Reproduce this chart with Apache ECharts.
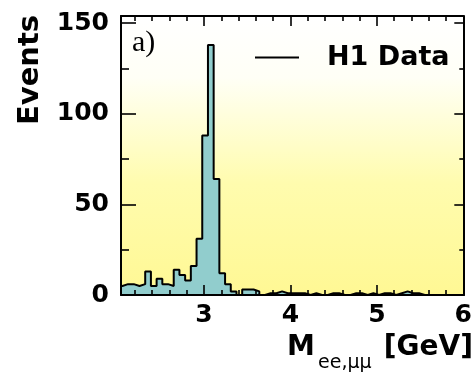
<!DOCTYPE html>
<html>
<head>
<meta charset="utf-8">
<script src="https://cdn.jsdelivr.net/npm/echarts@6/dist/echarts.min.js"></script>
<style>
  html, body { margin: 0; padding: 0; background: #ffffff; }
  #chart { width: 475px; height: 374px; }
</style>
</head>
<body>
<div id="chart"></div>
<script>
// Invariant mass of ee / mumu pairs, J/psi region
const binStart = 1.99;   // GeV, lower edge of the first bin
const binWidth = 0.066;  // GeV
const counts = [
  5, 6, 6, 5, 6, 13, 5, 9, 6, 5,
  14, 11, 8, 16, 31, 88, 138, 64, 12, 6,
  2, 0, 3, 3, 2, 0, 1, 1, 2, 1,
  1, 1, 1, 0, 1, 0, 0, 1, 1, 0,
  0, 1, 1, 0, 1, 0, 1, 1, 0, 1,
  2, 1, 1, 0, 0, 0, 0, 0, 0, 0,
  0
];
const xRange = [2.04, 6.0];
const yRange = [0, 154];
const xMajorTicks = [3, 4, 5, 6];
const xMinorTicks = [2.2, 2.4, 2.6, 2.8, 3.2, 3.4, 3.6, 3.8, 4.2, 4.4, 4.6, 4.8, 5.2, 5.4, 5.6, 5.8];
const yMajorTicks = [0, 50, 100, 150];
const yMinorTicks = [25, 75, 125];
const seriesName = 'H1 Data';

const FONT = "'DejaVu Sans', sans-serif";

// step outline: one point per left bin edge, closed down to zero at both ends
const histPoints = [[binStart, 0]];
counts.forEach((c, i) => histPoints.push([binStart + i * binWidth, c]));
histPoints.push([binStart + counts.length * binWidth, counts[counts.length - 1]]);
histPoints.push([binStart + counts.length * binWidth, 0]);

function xAxisDef(position, ticks, tickLen, withLine, withLabels) {
  return {
    type: 'value', position: position, min: xRange[0], max: xRange[1], z: 10,
    axisLine: { show: withLine, onZero: false, lineStyle: { color: '#000', width: 2 } },
    axisTick: { show: true, inside: true, length: tickLen, customValues: ticks,
                lineStyle: { color: '#000', width: 1.6 } },
    axisLabel: withLabels
      ? { show: true, customValues: ticks, margin: 8, color: '#000',
          fontFamily: FONT, fontWeight: 'bold', fontSize: 25 }
      : { show: false },
    splitLine: { show: false }
  };
}
function yAxisDef(position, ticks, tickLen, withLine, withLabels) {
  return {
    type: 'value', position: position, min: yRange[0], max: yRange[1], z: 10,
    axisLine: { show: withLine, onZero: false, lineStyle: { color: '#000', width: 2 } },
    axisTick: { show: true, inside: true, length: tickLen, customValues: ticks,
                lineStyle: { color: '#000', width: 1.6 } },
    axisLabel: withLabels
      ? { show: true, customValues: ticks, margin: 12, color: '#000',
          fontFamily: FONT, fontWeight: 'bold', fontSize: 25 }
      : { show: false },
    splitLine: { show: false }
  };
}

const chart = echarts.init(document.getElementById('chart'), null, { renderer: 'canvas' });
chart.setOption({
  animation: false,
  backgroundColor: '#ffffff',
  grid: {
    left: 121, right: 3, top: 16, bottom: 79,
    show: true, borderWidth: 0,
    backgroundColor: new echarts.graphic.LinearGradient(0, 0, 0, 1, [
      { offset: 0, color: '#ffffff' },
      { offset: 0.22, color: '#fffff6' },
      { offset: 0.6, color: '#fffcae' },
      { offset: 1, color: '#fff894' }
    ])
  },
  xAxis: [
    xAxisDef('bottom', xMajorTicks, 10, true, true),
    xAxisDef('top', xMajorTicks, 10, true, false),
    xAxisDef('bottom', xMinorTicks, 5, false, false),
    xAxisDef('top', xMinorTicks, 5, false, false)
  ],
  yAxis: [
    yAxisDef('left', yMajorTicks, 15, true, true),
    yAxisDef('right', yMajorTicks, 9, true, false),
    yAxisDef('left', yMinorTicks, 8, false, false),
    yAxisDef('right', yMinorTicks, 4, false, false)
  ],
  legend: {
    left: 255, top: 44, padding: 0,
    itemWidth: 44, itemHeight: 2,
    data: [{ name: seriesName, icon: 'rect', itemStyle: { color: '#000' } }],
    textStyle: { fontFamily: FONT, fontWeight: 'bold', fontSize: 27, color: '#000',
                 padding: [0, 0, 0, 23] }
  },
  series: [{
    name: seriesName,
    type: 'line',
    xAxisIndex: 0, yAxisIndex: 0,
    step: 'end',
    symbol: 'none',
    clip: true,
    data: histPoints,
    lineStyle: { color: '#000', width: 2 },
    itemStyle: { color: '#000' },
    areaStyle: { color: '#91cdcd', opacity: 1, origin: 'start' },
    z: 3
  }],
  graphic: [
    { type: 'text', x: 30, y: 70, rotation: Math.PI / 2,
      style: { text: 'Events', fill: '#000', font: "bold 29px 'DejaVu Sans'",
               align: 'center', verticalAlign: 'middle' } },
    { type: 'text', x: 132, y: 43, z: 20,
      style: { text: 'a)', fill: '#000', font: "30px 'Liberation Serif'",
               align: 'left', verticalAlign: 'middle' } },
    { type: 'text', x: 287, y: 348,
      style: { text: 'M', fill: '#000', font: "bold 28px 'DejaVu Sans'",
               align: 'left', verticalAlign: 'middle' } },
    { type: 'text', x: 318, y: 363,
      style: { text: 'ee,\u03bc\u03bc', fill: '#000', font: "19px 'DejaVu Sans'",
               align: 'left', verticalAlign: 'middle' } },
    { type: 'text', x: 473, y: 348,
      style: { text: '[GeV]', fill: '#000', font: "bold 28px 'DejaVu Sans'",
               align: 'right', verticalAlign: 'middle' } }
  ]
});
</script>
</body>
</html>
